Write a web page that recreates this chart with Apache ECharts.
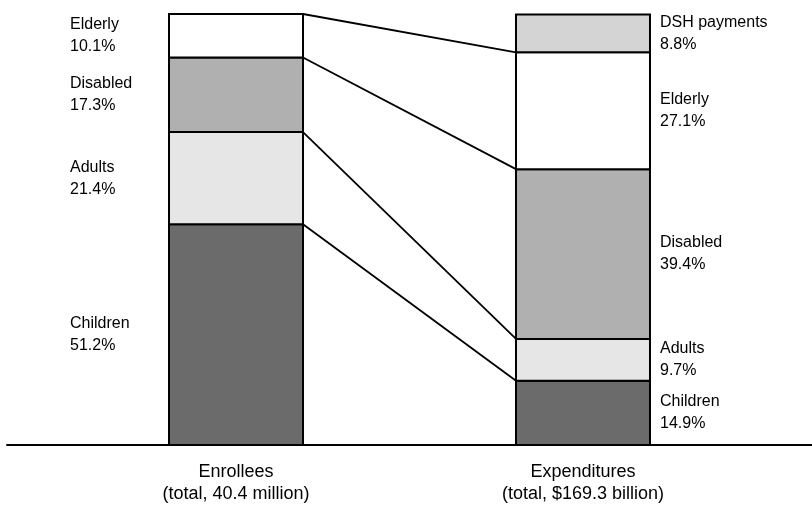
<!DOCTYPE html>
<html>
<head>
<meta charset="utf-8">
<script src="https://cdn.jsdelivr.net/npm/echarts@6/dist/echarts.min.js"></script>
<style>
html,body{margin:0;padding:0;background:#fff;}
#chart{width:812px;height:506px;}
</style>
</head>
<body>
<div id="chart"></div>
<script>
const categories = ['Enrollees\n(total, 40.4 million)', 'Expenditures\n(total, $169.3 billion)'];
const groups = ['Children', 'Adults', 'Disabled', 'Elderly', 'DSH payments'];
const enrollees = [51.2, 21.4, 17.3, 10.1, null];
const expenditures = [14.9, 9.7, 39.4, 27.1, 8.8];
const colors = ['#6b6b6b', '#e6e6e6', '#b0b0b0', '#ffffff', '#d4d4d4'];

const BAR_W = 134;
const FONT = 'Liberation Sans, Arial, sans-serif';

// build stacked segments: [x, start, end, groupIndex, value]
const segments = [];
[enrollees, expenditures].forEach((vals, x) => {
  let acc = 0;
  vals.forEach((v, g) => {
    if (v == null) return;
    segments.push([x, +acc.toFixed(2), +(acc + v).toFixed(2), g, v]);
    acc += v;
  });
});

// connector lines between matching group boundaries
const connectors = [];
let lc = 0, rc = 0;
for (let i = 0; i < 4; i++) {
  lc += enrollees[i];
  rc += expenditures[i];
  connectors.push([0, +lc.toFixed(2), 1, +rc.toFixed(2)]);
}

const barSeries = {
  type: 'custom',
  data: segments,
  encode: { x: 0, y: [1, 2] },
  silent: true,
  z: 3,
  renderItem: function (params, api) {
    const x = api.value(0);
    const p0 = api.coord([x, api.value(1)]);
    const p1 = api.coord([x, api.value(2)]);
    const g = api.value(3);
    const v = api.value(4);
    const left = p0[0] - BAR_W / 2;
    const top = p1[1];
    const h = p0[1] - p1[1];
    const tx = x === 0 ? left - 99 : left + BAR_W + 10;
    return {
      type: 'group',
      children: [
        {
          type: 'rect',
          shape: { x: left, y: top, width: BAR_W, height: h },
          style: { fill: colors[g], stroke: '#000', lineWidth: 2 }
        },
        {
          type: 'text',
          x: tx,
          y: top + h / 2,
          style: {
            text: groups[g] + '\n' + v.toFixed(1) + '%',
            fill: '#000',
            font: '16px ' + FONT,
            lineHeight: 22,
            align: 'left',
            verticalAlign: 'middle'
          }
        }
      ]
    };
  }
};

const connectorSeries = {
  type: 'custom',
  data: connectors,
  encode: { x: [0, 2], y: [1, 3] },
  silent: true,
  z: 2,
  renderItem: function (params, api) {
    const a = api.coord([api.value(0), api.value(1)]);
    const b = api.coord([api.value(2), api.value(3)]);
    return {
      type: 'line',
      shape: { x1: a[0] + BAR_W / 2, y1: a[1], x2: b[0] - BAR_W / 2, y2: b[1] },
      style: { stroke: '#000', lineWidth: 1.8 }
    };
  }
};

const chart = echarts.init(document.getElementById('chart'));
chart.setOption({
  animation: false,
  backgroundColor: '#fff',
  grid: { left: 7, right: 0, top: 14, bottom: 61, containLabel: false },
  xAxis: {
    type: 'value',
    min: -0.66,
    max: 1.66,
    splitLine: { show: false },
    axisTick: { show: false },
    axisLine: { show: true, lineStyle: { color: '#000', width: 2 } },
    axisLabel: {
      customValues: [0, 1],
      formatter: function (v) { return categories[Math.round(v)]; },
      color: '#000',
      fontFamily: FONT,
      fontSize: 18,
      lineHeight: 22,
      margin: 16,
      showMinLabel: true,
      showMaxLabel: true
    }
  },
  yAxis: {
    type: 'value',
    min: 0,
    max: 100,
    show: false
  },
  series: [connectorSeries, barSeries]
});
</script>
</body>
</html>
